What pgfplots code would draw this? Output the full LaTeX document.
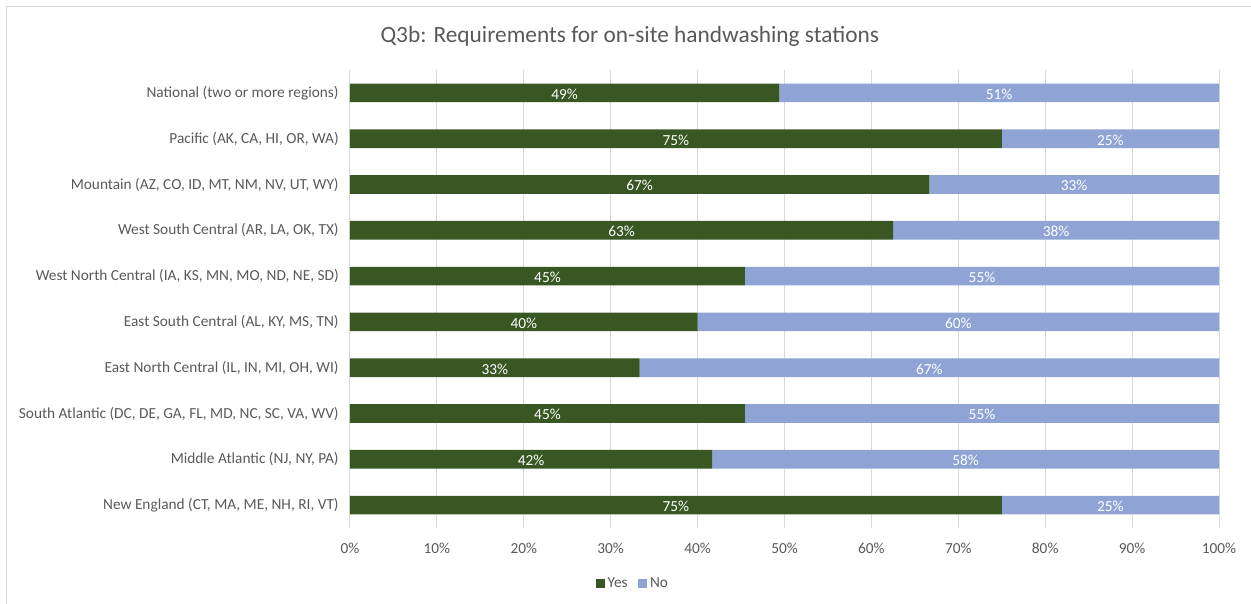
\documentclass[border=0pt]{standalone}
\usepackage{pgfplots}
\pgfplotsset{compat=1.18}
\usepackage{pgfplotstable}
\usepackage{fontspec}
\setmainfont{Carlito}

\definecolor{yesgreen}{HTML}{385723}
\definecolor{noblue}{HTML}{8FA4D5}
\definecolor{txt}{HTML}{595959}
\definecolor{gridc}{HTML}{D9D9D9}

% region index (0 = bottom), share yes, share no
\pgfplotstableread{
idx yes   no
0   75.00 25.00
1   41.67 58.33
2   45.45 54.55
3   33.33 66.67
4   40.00 60.00
5   45.45 54.55
6   62.50 37.50
7   66.67 33.33
8   75.00 25.00
9   49.40 50.60
}\regions

\begin{document}
\begin{tikzpicture}
\useasboundingbox (-262.5pt,-56.25pt) rectangle (675.75pt,396pt);
\draw[gridc, line width=0.75pt] (-257.25pt,-60pt) -- (-257.25pt,390.75pt) -- (680pt,390.75pt);
\begin{axis}[
    name=ax,
    at={(0,0)}, anchor=south west,
    scale only axis,
    width=651.75pt, height=343.5pt,
    xbar stacked,
    bar width=14pt,
    xmin=0, xmax=100,
    ymin=-0.5, ymax=9.5,
    xtick={0,10,...,100},
    xticklabel={\pgfmathprintnumber{\tick}\%},
    ytick={0,...,9},
    yticklabels={
        {New England (CT, MA, ME, NH, RI, VT)},
        {Middle Atlantic (NJ, NY, PA)},
        {South Atlantic (DC, DE, GA, FL, MD, NC, SC, VA, WV)},
        {East North Central (IL, IN, MI, OH, WI)},
        {East South Central (AL, KY, MS, TN)},
        {West North Central (IA, KS, MN, MO, ND, NE, SD)},
        {West South Central (AR, LA, OK, TX)},
        {Mountain (AZ, CO, ID, MT, NM, NV, UT, WY)},
        {Pacific (AK, CA, HI, OR, WA)},
        {National (two or more regions)}},
    /pgf/number format/assume math mode=true,
    major tick length=0pt,
    axis line style={draw=none},
    xmajorgrids,
    grid style={gridc, line width=0.75pt},
    tick label style={font=\fontsize{11.5}{13}\selectfont, text=txt},
    xticklabel style={yshift=-8pt},
    yticklabel style={xshift=-5pt},
    visualization depends on=rawx\as\rawx,
    nodes near coords={\pgfmathprintnumber[fixed,precision=0]{\rawx}\%},
    every node near coord/.append style={
        font=\fontsize{11.5}{13}\selectfont, text=white, anchor=center, yshift=-1pt},
    legend style={draw=none, at={(axis description cs:0.326,-0.122)}, anchor=center,
        legend columns=2, font=\fontsize{11.5}{13}\selectfont, text=txt,
        /tikz/every even column/.append style={column sep=6pt}},
    legend image code/.code={\fill[#1] (0pt,-3.4pt) rectangle (6.8pt,3.4pt);},
    clip=false,
]
\addplot[fill=yesgreen, draw=none] table[x=yes, y=idx] {\regions};
\addplot[fill=noblue, draw=none] table[x=no, y=idx] {\regions};
\legend{Yes, No}
\node[font=\fontsize{17.5}{20}\selectfont, text=txt] at (axis description cs:0.322,1.074)
    {Q3b: Requirements for on-site handwashing stations};
\end{axis}
\end{tikzpicture}
\end{document}
